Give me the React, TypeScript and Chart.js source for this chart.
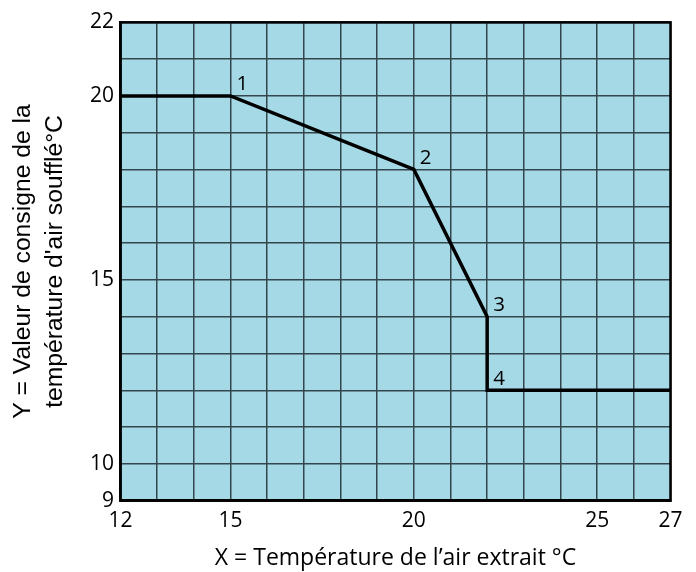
import React, { useEffect, useRef } from 'react';
import { Chart, registerables } from 'chart.js';

Chart.register(...registerables);

const xValues = [12, 15, 20, 22, 22, 27];
const yValues = [20, 20, 18, 14, 12, 12];
const pointLabels = ['', '1', '2', '3', '4', ''];
const xTickLabels = [12, 15, 20, 25, 27];
const yTickLabels = [9, 10, 15, 20, 22];
const xTitle = 'X = Température de l’air extrait °C';
const yTitle = ['Y = Valeur de consigne de la', "température d'air soufflé°C"];

const FONT = '"Open Sans", "Noto Sans", sans-serif';

const framePlugin = {
  id: 'frameAndLabels',
  beforeDraw(chart: any) {
    const { ctx, chartArea: a } = chart;
    ctx.save();
    ctx.fillStyle = '#a6d9e6';
    ctx.fillRect(a.left, a.top, a.right - a.left, a.bottom - a.top);
    ctx.restore();
  },
  afterDatasetsDraw(chart: any) {
    const { ctx, chartArea: a } = chart;
    ctx.save();
    ctx.strokeStyle = '#000';
    ctx.lineWidth = 2.5;
    ctx.strokeRect(a.left, a.top, a.right - a.left, a.bottom - a.top);
    const meta = chart.getDatasetMeta(0);
    ctx.fillStyle = '#000';
    ctx.font = '20.5px ' + FONT;
    ctx.textAlign = 'left';
    ctx.textBaseline = 'alphabetic';
    meta.data.forEach((el: any, i: number) => {
      const t = pointLabels[i];
      if (t) ctx.fillText(t, el.x + 6, el.y - 5.5);
    });
    ctx.restore();
  },
};

export default function App() {
  const ref = useRef<HTMLCanvasElement>(null);
  useEffect(() => {
    if (!ref.current) return;
    const chart = new Chart(ref.current, {
      type: 'scatter',
      data: {
        datasets: [
          {
            data: xValues.map((x, i) => ({ x, y: yValues[i] })),
            showLine: true,
            borderColor: '#000',
            borderWidth: 3.5,
            pointRadius: 0,
            tension: 0,
            borderJoinStyle: 'miter',
            fill: false,
          },
        ],
      },
      options: {
        animation: false,
        responsive: false,
        events: [],
        layout: { padding: { top: 22.3, right: 25.5, left: 0, bottom: 0 } },
        plugins: { legend: { display: false }, tooltip: { enabled: false } },
        scales: {
          x: {
            type: 'linear',
            min: 12,
            max: 27,
            afterFit: (s: any) => {
              s.height = 71.3;
              s.paddingLeft = 0;
              s.paddingRight = 0;
            },
            ticks: {
              stepSize: 1,
              autoSkip: false,
              maxRotation: 0,
              padding: 7.7,
              color: '#000',
              font: { family: FONT, size: 21 },
              callback: (v: any) => (xTickLabels.includes(Number(v)) ? String(v) : ''),
            },
            grid: { color: '#33464d', lineWidth: 1.5, drawTicks: false },
            border: { display: true, color: '#000', width: 2.5 },
            title: {
              display: true,
              text: xTitle,
              color: '#000',
              font: { family: FONT, size: 23 },
              padding: { top: 0, bottom: 0 },
            },
          },
          y: {
            type: 'linear',
            min: 9,
            max: 22,
            afterFit: (s: any) => {
              s.width = 120.5;
              s.paddingTop = 0;
              s.paddingBottom = 0;
            },
            ticks: {
              stepSize: 1,
              autoSkip: false,
              padding: 6.5,
              color: '#000',
              font: { family: FONT, size: 21 },
              callback: (v: any) => (yTickLabels.includes(Number(v)) ? String(v) : ''),
            },
            grid: { color: '#33464d', lineWidth: 1.5, drawTicks: false },
            border: { display: true, color: '#000', width: 2.5 },
            title: {
              display: true,
              text: yTitle,
              color: '#000',
              font: { family: '"Liberation Sans", Arial, sans-serif', size: 24.7, lineHeight: 1.28 },
              padding: { top: 7.5, bottom: 0 },
            },
          },
        },
      },
      plugins: [framePlugin],
    } as any);
    return () => chart.destroy();
  }, []);
  return (
    <div style={{ position: 'absolute', left: 0, top: 0, width: 696, height: 572 }}>
      <canvas ref={ref} width={696} height={572} style={{ display: 'block' }} />
    </div>
  );
}
